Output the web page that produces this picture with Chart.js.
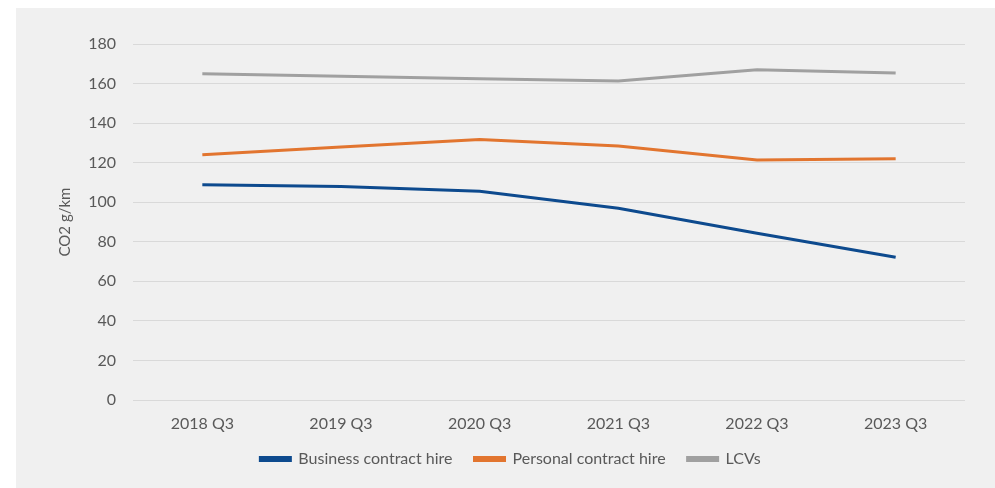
<!DOCTYPE html>
<html>
<head>
<meta charset="utf-8">
<script src="https://cdn.jsdelivr.net/npm/chart.js@4.4.0/dist/chart.umd.min.js"></script>
<style>
    body { margin: 0; background: #ffffff; }
    #wrap { position: absolute; left: 16px; top: 8px; width: 979px; height: 480px; background: #f0f0f0; }
</style>
</head>
<body>
<div id="wrap"><canvas id="co2Chart" width="979" height="480"></canvas></div>
<script>
// Dados do gráfico
const trimestres = ['2018 Q3', '2019 Q3', '2020 Q3', '2021 Q3', '2022 Q3', '2023 Q3'];
const businessHire = [108.8, 107.9, 105.5, 97.0, 84.3, 72.2];
const personalHire = [124.0, 127.9, 131.7, 128.4, 121.3, 122.0];
const lcvs = [165.0, 163.7, 162.4, 161.3, 167.0, 165.3];
const yTicks = [0, 20, 40, 60, 80, 100, 120, 140, 160, 180];

Chart.defaults.font.family = 'Lato, "Open Sans", sans-serif';
Chart.defaults.font.size = 16;
Chart.defaults.color = '#595959';

function serie(nome, valores, cor) {
    return {
        label: nome,
        data: valores,
        borderColor: cor,
        backgroundColor: cor,
        borderWidth: 3,
        pointRadius: 0,
        tension: 0,
        fill: false
    };
}

// sobe um pouco a legenda (fica mais perto dos rótulos do eixo x)
const subirLegenda = {
    id: 'subirLegenda',
    afterLayout: function (chart) {
        chart.legend.top -= 6;
        chart.legend.bottom -= 6;
    }
};

const ctx = document.getElementById('co2Chart');

new Chart(ctx, {
    type: 'line',
    data: {
        labels: trimestres,
        datasets: [
            serie('Business contract hire', businessHire, '#0d4a8e'),
            serie('Personal contract hire', personalHire, '#e2752f'),
            serie('LCVs', lcvs, '#a0a0a0')
        ]
    },
    options: {
        responsive: false,
        animation: false,
        layout: { padding: { left: 40, right: 30, top: 36, bottom: 5 } },
        plugins: {
            tooltip: { enabled: false },
            legend: {
                position: 'bottom',
                labels: {
                    boxWidth: 30,
                    boxHeight: 3,
                    padding: 22,
                    font: { size: 16 }
                }
            }
        },
        scales: {
            x: {
                offset: true,
                grid: { display: false },
                border: { display: false },
                ticks: { padding: 6, maxRotation: 0 },
                afterFit: function (scale) { scale.height = 35; }
            },
            y: {
                min: 0,
                max: 180,
                afterBuildTicks: function (scale) {
                    scale.ticks = yTicks.map(function (v) { return { value: v }; });
                },
                grid: { color: '#d9d9d9', lineWidth: 1, drawTicks: false },
                border: { display: false },
                ticks: { padding: 17 },
                title: {
                    display: true,
                    text: 'CO2 g/km',
                    font: { size: 15 },
                    padding: { top: 0, bottom: 8 }
                },
                afterFit: function (scale) { scale.width = 77; }
            }
        }
    },
    plugins: [subirLegenda]
});
</script>
</body>
</html>
